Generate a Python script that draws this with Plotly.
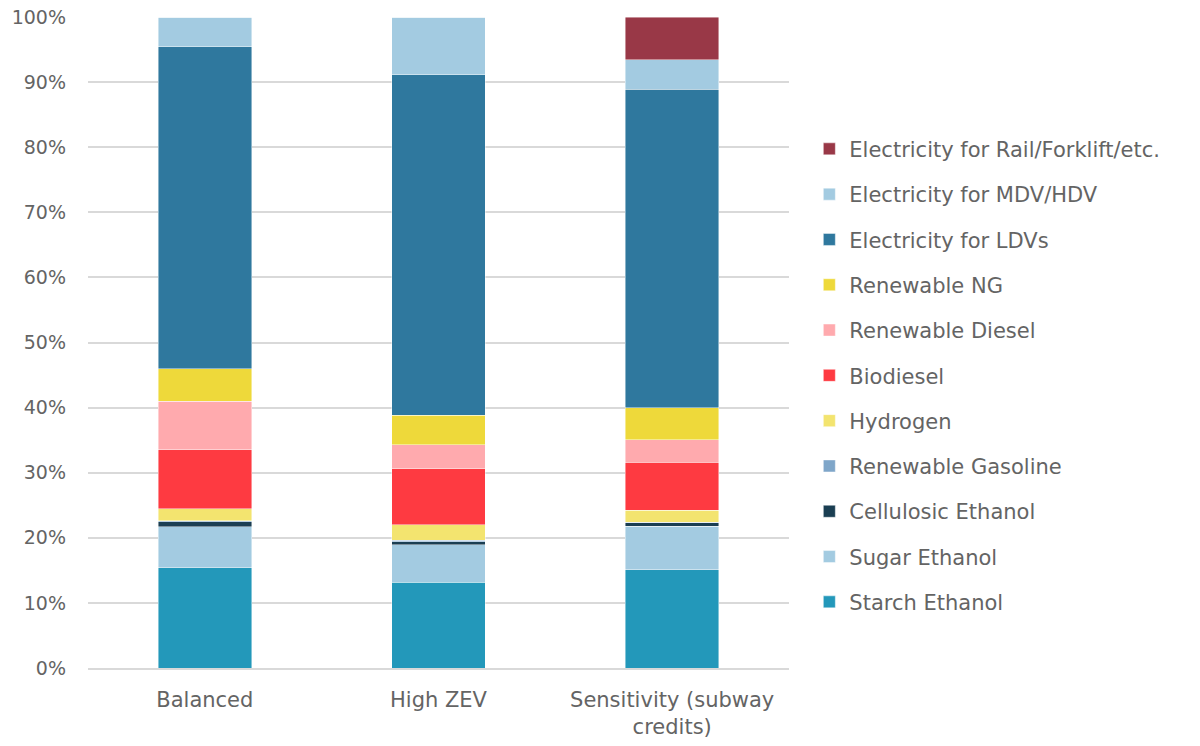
import plotly.graph_objects as go

# Scenario categories along the x axis
scenarios = ["Balanced", "High ZEV", "Sensitivity (subway<br>credits)"]

# Share of credits by fuel type (percent), bottom of the stack first
starch_ethanol = [15.4, 13.2, 15.1]
sugar_ethanol = [6.3, 5.7, 6.7]
cellulosic_ethanol = [0.8, 0.5, 0.5]
renewable_gasoline = [0.1, 0.2, 0.1]
hydrogen = [1.9, 2.4, 1.8]
biodiesel = [9.0, 8.6, 7.4]
renewable_diesel = [7.5, 3.7, 3.5]
renewable_ng = [5.0, 4.5, 4.9]
electricity_ldv = [49.4, 52.3, 48.9]
electricity_mdv_hdv = [4.6, 8.9, 4.5]
electricity_rail = [0.0, 0.0, 6.6]

series = [
    ("Starch Ethanol", starch_ethanol, "#2398BA"),
    ("Sugar Ethanol", sugar_ethanol, "#A3CBE1"),
    ("Cellulosic Ethanol", cellulosic_ethanol, "#1A3E52"),
    ("Renewable Gasoline", renewable_gasoline, "#7FA6C9"),
    ("Hydrogen", hydrogen, "#F3E46F"),
    ("Biodiesel", biodiesel, "#FE3A41"),
    ("Renewable Diesel", renewable_diesel, "#FFAAAE"),
    ("Renewable NG", renewable_ng, "#EED93A"),
    ("Electricity for LDVs", electricity_ldv, "#2F789E"),
    ("Electricity for MDV/HDV", electricity_mdv_hdv, "#A3CBE1"),
    ("Electricity for Rail/Forklift/etc.", electricity_rail, "#993847"),
]

FONT = "DejaVu Sans"
GREY = "#646464"

fig = go.Figure()
for i, (name, vals, color) in enumerate(series):
    fig.add_trace(go.Bar(
        name=name,
        x=scenarios,
        y=[v / 100 for v in vals],
        marker=dict(color=color, line=dict(color="rgba(255,255,255,0.55)", width=0.8)),
        legendgroup=name,
        legendrank=1000 - i,  # top of the stack listed first
    ))

fig.update_layout(
    barmode="stack",
    bargap=0.6,
    width=1200,
    height=746,
    margin=dict(l=88, r=411, t=17, b=78, autoexpand=False),
    paper_bgcolor="white",
    plot_bgcolor="white",
    font=dict(family=FONT, size=20, color=GREY),
    legend=dict(
        traceorder="grouped",
        x=1.029,
        y=0.449,
        xanchor="left",
        yanchor="middle",
        font=dict(family=FONT, size=21, color=GREY),
        tracegroupgap=15,
        itemwidth=30,
        bgcolor="rgba(0,0,0,0)",
    ),
    yaxis=dict(
        range=[0, 1],
        tickvals=[i / 10 for i in range(11)],
        tickformat=".0%",
        showgrid=True,
        gridcolor="#D9D9D9",
        gridwidth=1.5,
        zeroline=False,
        showline=False,
        ticklabelstandoff=21,
        tickfont=dict(family=FONT, size=19, color=GREY),
    ),
    xaxis=dict(
        showline=True,
        linecolor="#D9D9D9",
        linewidth=1.5,
        showgrid=False,
        tickfont=dict(family=FONT, size=21, color=GREY),
        ticklabelstandoff=12,
    ),
    showlegend=True,
)

fig.write_html("out.html")
